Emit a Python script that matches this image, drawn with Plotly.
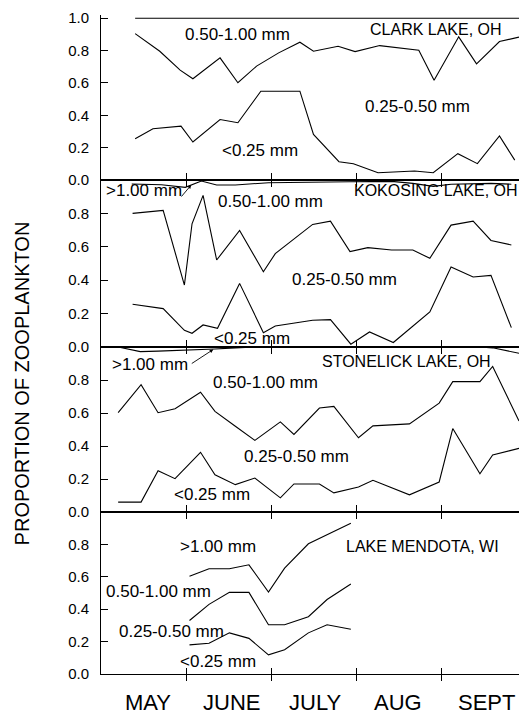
import plotly.graph_objects as go

# ---------------- data (x in months since 1 May; y = cumulative proportion) ----------------
months = ["MAY", "JUNE", "JULY", "AUG", "SEPT"]
month_label_pos = [0.54, 1.52, 2.51, 3.49, 4.53]
month_ticks = [1, 2, 3, 4]

# Clark Lake, OH
clark_top_x = [0.39, 4.91]
clark_top = [1.0, 1.0]
clark_mid_x = [0.39, 0.68, 0.92, 1.07, 1.39, 1.60, 1.82, 2.08, 2.33, 2.49, 2.78, 2.98, 3.27, 3.73, 3.91, 4.20, 4.41, 4.68, 4.91]
clark_mid = [0.905, 0.796, 0.679, 0.626, 0.755, 0.601, 0.704, 0.786, 0.852, 0.796, 0.827, 0.794, 0.831, 0.802, 0.617, 0.885, 0.718, 0.856, 0.883]
clark_low_x = [0.39, 0.60, 0.93, 1.07, 1.39, 1.60, 1.87, 2.33, 2.49, 2.79, 2.96, 3.25, 3.68, 3.90, 4.19, 4.42, 4.68, 4.86]
clark_low = [0.255, 0.317, 0.333, 0.235, 0.374, 0.354, 0.549, 0.549, 0.282, 0.113, 0.101, 0.045, 0.056, 0.045, 0.163, 0.101, 0.272, 0.123]

# Kokosing Lake, OH
koko_top_x = [0.35, 0.70, 0.98, 1.17, 1.35, 1.57, 1.96, 2.45, 2.92, 3.41, 3.66, 3.90, 4.11, 4.58, 4.82]
koko_top = [0.976, 0.972, 0.956, 0.994, 0.970, 0.970, 0.984, 0.985, 0.990, 0.992, 0.980, 0.962, 0.975, 0.980, 0.975]
koko_mid_x = [0.36, 0.72, 0.97, 1.06, 1.19, 1.35, 1.62, 1.90, 2.04, 2.48, 2.69, 2.92, 3.13, 3.41, 3.66, 3.86, 4.11, 4.37, 4.58, 4.82]
koko_mid = [0.800, 0.818, 0.371, 0.738, 0.908, 0.521, 0.698, 0.451, 0.559, 0.734, 0.754, 0.571, 0.595, 0.581, 0.581, 0.531, 0.730, 0.754, 0.638, 0.611]
koko_low_x = [0.36, 0.72, 0.97, 1.06, 1.19, 1.36, 1.62, 1.90, 2.04, 2.48, 2.69, 2.93, 3.15, 3.43, 3.86, 4.11, 4.37, 4.58, 4.82]
koko_low = [0.256, 0.230, 0.100, 0.082, 0.132, 0.112, 0.381, 0.086, 0.126, 0.160, 0.164, 0.017, 0.090, 0.027, 0.210, 0.479, 0.419, 0.429, 0.116]

# Stonelick Lake, OH
stone_top_x = [0.19, 0.45, 0.66, 0.86, 1.16, 1.33, 1.57, 1.80, 2.10, 2.56, 3.02, 3.62, 3.97, 4.45, 4.60, 4.91]
stone_top = [1.0, 0.972, 0.975, 0.978, 0.985, 0.988, 0.995, 1.0, 1.0, 1.0, 1.0, 1.0, 1.0, 1.0, 0.995, 0.962]
stone_x = [0.19, 0.46, 0.66, 0.86, 1.16, 1.33, 1.57, 1.80, 2.10, 2.26, 2.56, 2.73, 3.02, 3.19, 3.62, 3.97, 4.13, 4.45, 4.60, 4.91]
stone_mid = [0.602, 0.772, 0.602, 0.626, 0.726, 0.610, 0.520, 0.434, 0.546, 0.470, 0.630, 0.640, 0.450, 0.522, 0.534, 0.660, 0.790, 0.790, 0.882, 0.552]
stone_low = [0.06, 0.06, 0.25, 0.202, 0.362, 0.226, 0.166, 0.206, 0.086, 0.17, 0.17, 0.116, 0.152, 0.192, 0.104, 0.182, 0.506, 0.232, 0.346, 0.386]

# Lake Mendota, WI
mendota_x = [1.03, 1.26, 1.50, 1.73, 1.96, 2.15, 2.43, 2.65, 2.93]
mendota_top = [0.604, 0.65, 0.65, 0.674, 0.506, 0.654, 0.804, 0.86, 0.93]
mendota_mid = [0.33, 0.43, 0.504, 0.504, 0.304, 0.304, 0.354, 0.46, 0.556]
mendota_low = [0.18, 0.19, 0.254, 0.22, 0.118, 0.15, 0.254, 0.304, 0.276]

# ---------------- figure ----------------
FONT = "Arial, Liberation Sans, sans-serif"
LINE = dict(color="black", width=1.1)

panels = [
    ("x", "y", [(clark_top_x, clark_top), (clark_mid_x, clark_mid), (clark_low_x, clark_low)]),
    ("x2", "y2", [(koko_top_x, koko_top), (koko_mid_x, koko_mid), (koko_low_x, koko_low)]),
    ("x3", "y3", [(stone_top_x, stone_top), (stone_x, stone_mid), (stone_x, stone_low)]),
    ("x4", "y4", [(mendota_x, mendota_top), (mendota_x, mendota_mid), (mendota_x, mendota_low)]),
]

fig = go.Figure()
for xa, ya, lines in panels:
    for xs, ys in lines:
        fig.add_trace(go.Scatter(x=xs, y=ys, mode="lines", line=LINE,
                                 xaxis=xa, yaxis=ya, showlegend=False, hoverinfo="skip"))
# helper trace for the inner bottom ticks of the last panel
fig.add_trace(go.Scatter(x=[None], y=[None], xaxis="x5", yaxis="y4", showlegend=False))

XR = [-0.012, 4.91]
domains = [[0.7496, 1.0], [0.4962, 0.7496], [0.2458, 0.4962], [0.0, 0.2458]]

xbase = dict(range=XR, showgrid=False, zeroline=False, showline=True, linecolor="black",
             linewidth=1, ticks="outside", ticklen=6, tickwidth=1, tickcolor="black",
             tickvals=month_ticks, showticklabels=False)
ybase = dict(showgrid=False, zeroline=False, showline=True, linecolor="black", linewidth=1,
             ticks="inside", ticklen=7, tickwidth=1, tickcolor="black", tickformat=".1f",
             ticklabelstandoff=8,
             tickfont=dict(family=FONT, size=15, color="black"))

layout = dict(
    width=519, height=714,
    margin=dict(l=101, r=0, t=15, b=40),
    paper_bgcolor="white", plot_bgcolor="white",
    showlegend=False,
)
for i in range(4):
    n = "" if i == 0 else str(i + 1)
    xa = dict(xbase, anchor="y" + n)
    if i > 0:
        xa["matches"] = "x"
        xa["mirror"] = "ticks"
    layout["xaxis" + n] = xa
    ya = dict(ybase, domain=domains[i], anchor="x" + n)
    if i == 0:
        ya["range"] = [0, 1.02]
        ya["tickvals"] = [0, 0.2, 0.4, 0.6, 0.8, 1.0]
    else:
        ya["range"] = [0, 1.0]
        ya["tickvals"] = [0, 0.2, 0.4, 0.6, 0.8]
    layout["yaxis" + n] = ya
layout["xaxis5"] = dict(overlaying="x4", anchor="y4", range=XR, showgrid=False, zeroline=False,
                        showline=False, ticks="inside", ticklen=6, tickwidth=1,
                        tickcolor="black", tickvals=month_ticks, showticklabels=False)
fig.update_layout(**layout)

# ---------------- text labels ----------------
def lab(text, x, y, ax_id, size=17):
    n = "" if ax_id == 1 else str(ax_id)
    fig.add_annotation(text=text, x=x, y=y, xref="x" + n, yref="y" + n, showarrow=False,
                       font=dict(family=FONT, size=size, color="black"),
                       xanchor="center", yanchor="middle")

def arrow(x, y, ax, ay, ax_id):
    n = "" if ax_id == 1 else str(ax_id)
    fig.add_annotation(text="", x=x, y=y, xref="x" + n, yref="y" + n, showarrow=True,
                       ax=ax, ay=ay, arrowhead=2, arrowsize=0.8, arrowwidth=0.9,
                       arrowcolor="black")

lab("0.50-1.00 mm", 1.60, 0.90, 1)
lab("CLARK LAKE, OH", 3.93, 0.93, 1, 16)
lab("0.25-0.50 mm", 3.71, 0.455, 1)
lab("<0.25 mm", 1.86, 0.18, 1)

lab(">1.00 mm", 0.49, 0.936, 2)
arrow(1.05, 0.970, -11, 13, 2)
lab("0.50-1.00 mm", 1.98, 0.87, 2)
lab("KOKOSING LAKE, OH", 3.93, 0.936, 2, 16)
lab("0.25-0.50 mm", 2.85, 0.407, 2)
lab("<0.25 mm", 1.77, 0.052, 2)

lab(">1.00 mm", 0.57, 0.897, 3)
arrow(1.31, 0.985, -23, 15, 3)
lab("0.50-1.00 mm", 1.93, 0.784, 3)
lab("STONELICK LAKE, OH", 3.58, 0.911, 3, 16)
lab("0.25-0.50 mm", 2.29, 0.335, 3)
lab("<0.25 mm", 1.29, 0.109, 3)

lab(">1.00 mm", 1.36, 0.79, 4)
lab("LAKE MENDOTA, WI", 3.77, 0.786, 4, 16)
lab("0.50-1.00 mm", 0.67, 0.508, 4)
lab("0.25-0.50 mm", 0.82, 0.261, 4)
lab("<0.25 mm", 1.36, 0.076, 4)

for m, xp in zip(months, month_label_pos):
    fig.add_annotation(text=m, x=xp, y=-0.0645, xref="x4", yref="paper", showarrow=False,
                       font=dict(family=FONT, size=22, color="black"),
                       xanchor="center", yanchor="bottom")

fig.add_annotation(text="PROPORTION OF ZOOPLANKTON", textangle=-90, x=-0.188, y=0.4416,
                   xref="paper", yref="paper", showarrow=False,
                   font=dict(family=FONT, size=20, color="black"),
                   xanchor="center", yanchor="middle")

fig.write_html("out.html", config={"displayModeBar": False},
               post_script="document.body.style.margin='0px';document.body.style.overflow='hidden';")
